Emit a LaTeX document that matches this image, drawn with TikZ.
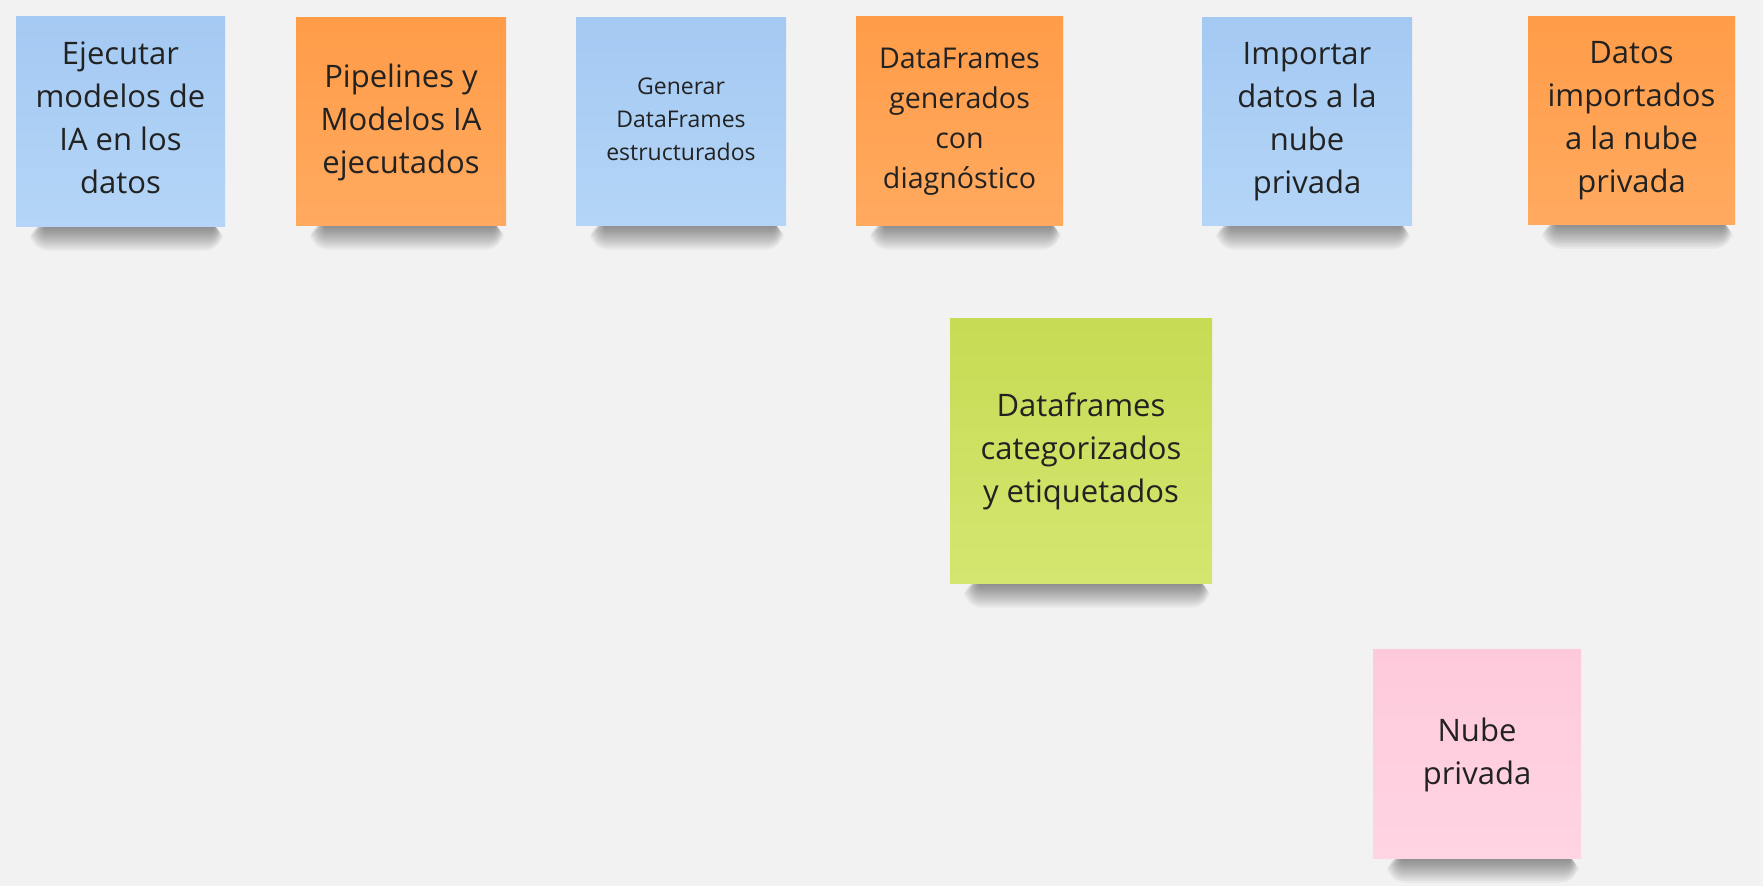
\documentclass[tikz,border=0pt]{standalone}
\usepackage{fontspec}
\setmainfont{Open Sans}
\usetikzlibrary{backgrounds}
\definecolor{bg}{RGB}{242,242,242}
\definecolor{ink}{RGB}{34,34,34}
\definecolor{blueT}{RGB}{164,201,242}
\definecolor{blueB}{RGB}{180,213,247}
\definecolor{orT}{RGB}{255,156,72}
\definecolor{orB}{RGB}{255,170,96}
\definecolor{grT}{RGB}{199,219,84}
\definecolor{grB}{RGB}{213,230,112}
\definecolor{pkT}{RGB}{254,202,219}
\definecolor{pkB}{RGB}{255,212,227}
\tikzset{
  note/.style={inner sep=0pt, align=center, text=ink,
    font=\fontsize{15.5}{21.5}\selectfont},
  bluenote/.style={note, top color=blueT, bottom color=blueB},
  orangenote/.style={note, top color=orT, bottom color=orB},
  greennote/.style={note, top color=grT, bottom color=grB},
  pinknote/.style={note, top color=pkT, bottom color=pkB},
  shadowlayer/.style={fill=black, opacity=0.034}
}
\newcommand{\lifted}[2]{\raisebox{#1}[\height][\depth]{\begin{tabular}{@{}c@{}}#2\end{tabular}}}
\newcommand{\noteshadow}[1]{%
  \foreach \i in {1,...,13}{%
    \fill[shadowlayer, rounded corners={\i*0.7pt}]
      ([xshift={15pt-\i*0.6pt}, yshift=2pt]#1.south west) rectangle
      ([xshift={-6pt+\i*0.35pt}, yshift={-\i*0.9pt}]#1.south east);}}
\begin{document}
\begin{tikzpicture}[x=0.5pt,y=-0.5pt]
\useasboundingbox (0,0) rectangle (1763,886);
\node[bluenote, minimum width=104.5pt, minimum height=105pt] (n1) at (120.5,122) {\lifted{0.7pt}{Ejecutar\\modelos de\\IA en los\\datos}};
\node[orangenote, minimum width=105pt, minimum height=104pt] (n2) at (401,122) {Pipelines y\\Modelos IA\\ejecutados};
\node[bluenote, minimum width=105pt, minimum height=104pt, font=\fontsize{11.5}{16.5}\selectfont] (n3) at (681,122) {\lifted{0.5pt}{Generar\\DataFrames\\estructurados}};
\node[orangenote, minimum width=103.5pt, minimum height=104.5pt, font=\fontsize{14.3}{20}\selectfont] (n4) at (959.5,121.5) {DataFrames\\generados\\con\\diagnóstico};
\node[bluenote, minimum width=105pt, minimum height=104pt] (n5) at (1307,122) {Importar\\datos a la\\nube\\privada};
\node[orangenote, minimum width=103.5pt, minimum height=104pt] (n6) at (1631.5,121) {Datos\\importados\\a la nube\\privada};
\node[greennote, minimum width=131pt, minimum height=132.5pt] (n7) at (1081,451.5) {Dataframes\\categorizados\\y etiquetados};
\node[pinknote, minimum width=104pt, minimum height=104.5pt] (n8) at (1477,754.5) {Nube\\privada};
\begin{pgfonlayer}{background}
\fill[bg] (0,0) rectangle (1763,886);
\noteshadow{n1}\noteshadow{n2}\noteshadow{n3}\noteshadow{n4}
\noteshadow{n5}\noteshadow{n6}\noteshadow{n7}\noteshadow{n8}
\end{pgfonlayer}
\end{tikzpicture}
\end{document}
